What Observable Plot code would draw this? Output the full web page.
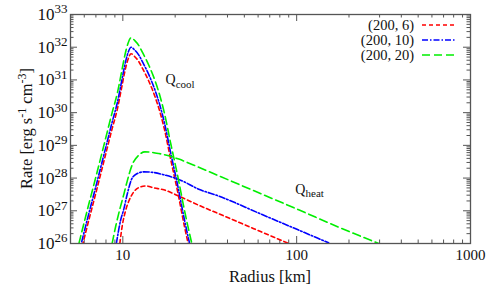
<!DOCTYPE html>
<html><head><meta charset="utf-8">
<script src="https://cdn.jsdelivr.net/npm/d3@7"></script>
<script src="https://cdn.jsdelivr.net/npm/@observablehq/plot@0.6"></script>
<style>body{margin:0;background:#fff}</style>
</head><body><div id="chart"></div>
<script>
// ---- data (radius in km, log10 of rate in erg s^-1 cm^-3) ----
const seriesNames = ["(200, 6)", "(200, 10)", "(200, 20)"];
const seriesColors = ["#ff0000", "#0000ff", "#00ee00"];
const seriesDash = ["4,3", "6,2,1.5,2", "8,4"];

const coolRadius = [5.59, 6.23, 6.97, 7.78, 8.68, 9.30, 9.80, 10.27, 10.68, 11.16, 11.72, 12.36, 12.95, 14.11, 15.38, 16.47, 17.32, 18.87, 20.71, 22.65, 24.93];
const coolLog6  = [25.51, 26.51, 27.51, 28.51, 29.51, 30.11, 30.71, 31.26, 31.61, 31.8, 31.71, 31.56, 31.36, 30.96, 30.46, 29.96, 29.51, 28.56, 27.56, 26.51, 25.51];
const coolLog10 = [25.71, 26.71, 27.71, 28.71, 29.71, 30.31, 30.91, 31.46, 31.81, 32.0, 31.91, 31.76, 31.56, 31.16, 30.66, 30.16, 29.71, 28.76, 27.76, 26.71, 25.71];
const coolLog20 = [26.0, 27.0, 28.0, 29.0, 30.0, 30.6, 31.2, 31.75, 32.1, 32.29, 32.2, 32.05, 31.85, 31.45, 30.95, 30.45, 30.0, 29.05, 28.05, 27.0, 26.0];

const heatRadius6 = [9.61, 9.93, 10.34, 10.83, 11.57, 12.36, 13.56, 15.07, 17.21, 20.98, 27.34, 35.63, 52.98, 89.95];
const heatLog6    = [26.0, 26.55, 26.98, 27.3, 27.58, 27.71, 27.76, 27.7, 27.64, 27.45, 27.17, 26.91, 26.52, 26.0];
const heatRadius10 = [9.18, 9.70, 10.13, 10.59, 11.27, 12.04, 13.20, 15.07, 17.21, 20.98, 27.34, 35.63, 60.48, 102.7, 152.7];
const heatLog10    = [26.0, 26.7, 27.05, 27.5, 27.98, 28.13, 28.19, 28.17, 28.1, 27.96, 27.66, 27.45, 26.93, 26.41, 26.02];
const heatRadius20 = [8.68, 9.12, 9.61, 10.13, 10.59, 11.31, 12.36, 13.38, 14.49, 16.10, 18.38, 20.98, 27.34, 35.63, 60.48, 102.7, 174.3, 296.0];
const heatLog20    = [26.0, 26.55, 27.05, 27.5, 27.9, 28.4, 28.7, 28.8, 28.79, 28.75, 28.68, 28.58, 28.33, 28.07, 27.55, 27.03, 26.5, 26.0];

const xMajor = [10, 100, 1000];
const xMinorMult = [2, 3, 4, 5, 6, 7, 8, 9];
const yMajorExp = [26, 27, 28, 29, 30, 31, 32, 33];
const annotations = [
  {r: 17.6, rate: 1e31, label: "Q_cool"},
  {r: 98.3, rate: 4.5e27, label: "Q_heat"}
];

// ---- build tables ----
const toRows = (rs, logs) => rs.map((r, i) => ({r, rate: Math.pow(10, logs[i])}));
const cool = [toRows(coolRadius, coolLog6), toRows(coolRadius, coolLog10), toRows(coolRadius, coolLog20)];
const heat = [toRows(heatRadius6, heatLog6), toRows(heatRadius10, heatLog10), toRows(heatRadius20, heatLog20)];

const xMinor = [];
[1, 10, 100].forEach(d => xMinorMult.forEach(m => { const v = d * m; if (v > 5 && v < 1000 && v !== 10 && v !== 100) xMinor.push(v); }));
const yMajor = yMajorExp.map(e => Math.pow(10, e));
const yMinor = [];
yMajorExp.slice(0, -1).forEach(e => xMinorMult.forEach(m => yMinor.push(m * Math.pow(10, e))));

const W = 491, H = 294, mL = 70, mR = 21, mT = 14, mB = 51;
const pW = W - mL - mR, pH = H - mT - mB;
const tickCol = "#555";
const major = 7, minor = 3.5;
const FONT = "Liberation Serif, Times New Roman, DejaVu Serif, serif";

const lineMarks = [];
for (let i = 0; i < 3; i++) {
  for (const d of [cool[i], heat[i]]) {
    lineMarks.push(Plot.line(d, {x: "r", y: "rate", stroke: seriesColors[i], strokeDasharray: seriesDash[i],
      strokeWidth: 1.6, curve: "monotone-x", clip: true}));
  }
}

const chart = Plot.plot({
  width: W, height: H, marginLeft: mL, marginRight: mR, marginTop: mT, marginBottom: mB,
  x: {type: "log", domain: [5, 1000], axis: null},
  y: {type: "log", domain: [1e26, 1e33], axis: null},
  style: {background: "#fff", color: "#111"},
  marks: [
    Plot.ruleX(xMajor, {x: d => d, insetTop: pH - major, stroke: tickCol}),
    Plot.ruleX(xMajor, {x: d => d, insetBottom: pH - major, stroke: tickCol}),
    Plot.ruleX(xMinor, {x: d => d, insetTop: pH - minor, stroke: tickCol}),
    Plot.ruleX(xMinor, {x: d => d, insetBottom: pH - minor, stroke: tickCol}),
    Plot.ruleY(yMajor, {y: d => d, insetRight: pW - major, stroke: tickCol}),
    Plot.ruleY(yMajor, {y: d => d, insetLeft: pW - major, stroke: tickCol}),
    Plot.ruleY(yMinor, {y: d => d, insetRight: pW - minor, stroke: tickCol}),
    Plot.ruleY(yMinor, {y: d => d, insetLeft: pW - minor, stroke: tickCol}),
    ...lineMarks,
    Plot.frame({stroke: tickCol, strokeWidth: 1.3}),
    Plot.text(xMajor, {x: d => d, frameAnchor: "bottom", dy: 16, text: d => String(d), fontSize: 15, fill: "#111", fontFamily: FONT}),
    Plot.text(yMajor, {y: d => d, frameAnchor: "left", dx: -3, textAnchor: "end", text: d => "10^" + Math.round(Math.log10(d)), fontSize: 17, fill: "#111", fontFamily: FONT}),
    Plot.text(annotations, {x: "r", y: "rate", text: "label", textAnchor: "start", fontSize: 14, fill: "#111", fontFamily: FONT})
  ]
});
document.getElementById("chart").appendChild(chart);

const svg = d3.select(chart);
svg.selectAll("text").each(function () {
  const t = d3.select(this); const s = t.text();
  if (s.includes("^")) {
    const [b, e] = s.split("^");
    t.text(b); t.append("tspan").attr("dy", "-0.5em").attr("font-size", "13px").text(e);
  } else if (s.includes("_")) {
    const [b, e] = s.split("_");
    t.text(b); t.append("tspan").attr("dy", "0.3em").attr("font-size", "11px").text(e);
  }
});

// axis titles
svg.append("text").attr("x", mL + pW / 2).attr("y", 282).attr("text-anchor", "middle")
  .attr("font-size", "16.5px").attr("fill", "#111").text("Radius [km]");
const yl = svg.append("text").attr("transform", `translate(32,${mT + pH / 2}) rotate(-90)`)
  .attr("text-anchor", "middle").attr("font-size", "16.5px").attr("fill", "#111");
yl.append("tspan").text("Rate [erg s");
yl.append("tspan").attr("dy", -6).attr("font-size", "12px").text("-1");
yl.append("tspan").attr("dy", 6).text(" cm");
yl.append("tspan").attr("dy", -6).attr("font-size", "12px").text("-3");
yl.append("tspan").attr("dy", 6).text("]");

// legend
const lg = svg.append("g");
seriesNames.forEach((name, i) => {
  const y = 25 + 15 * i;
  lg.append("text").attr("x", 414).attr("y", y + 4.5).attr("text-anchor", "end")
    .attr("font-size", "14.5px").attr("fill", "#111").text(name);
  lg.append("line").attr("x1", 422).attr("x2", 456).attr("y1", y).attr("y2", y)
    .attr("stroke", seriesColors[i]).attr("stroke-width", 1.6).attr("stroke-dasharray", seriesDash[i]);
});
svg.selectAll("text").attr("font-family", FONT).style("font-family", FONT);
</script></body></html>
